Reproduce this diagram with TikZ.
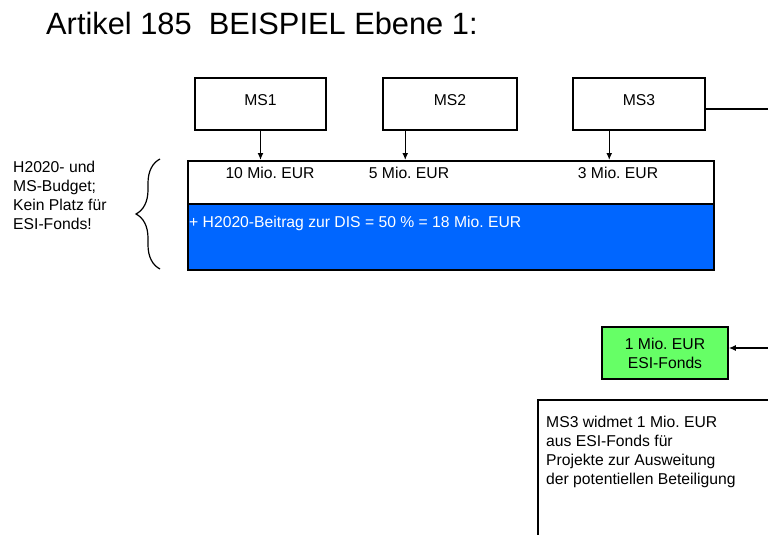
\documentclass[tikz,border=0pt]{standalone}
\usepackage{fontspec}
\setmainfont{Liberation Sans}
\frenchspacing
\usetikzlibrary{arrows.meta,decorations.pathreplacing}
\definecolor{disblue}{HTML}{0066FF}
\definecolor{esigreen}{HTML}{66FF66}
\begin{document}
\begin{tikzpicture}[x=1pt,y=-1pt,
    every node/.style={font=\fontsize{15.7}{19}\selectfont, inner sep=0pt},
    box/.style={draw, line width=1.5pt},
    msbox/.style={box, minimum height=52pt, text depth=8pt},
    arr/.style={-{Latex[length=7pt,width=6pt]}, line width=1.5pt}]
  \clip (0,0) rectangle (768,535);
  \node[anchor=west, font=\fontsize{30.8}{36}\selectfont] (title) at (46,23) {Artikel 185\ \ BEISPIEL Ebene 1:};
  \node[msbox, minimum width=131pt] (ms1) at (260.5,104) {MS1};
  \node[msbox, minimum width=134pt] (ms2) at (450,104) {MS2};
  \node[msbox, minimum width=132pt] (ms3) at (639,104) {MS3};
  \node[box, fill=white, minimum width=526pt, minimum height=43pt, anchor=north west] (budget) at (187,160) {};
  \node[box, fill=disblue, minimum width=526pt, minimum height=66pt, anchor=north west] (dis) at (187,203) {};
  \node (eur1) at (270,173) {10 Mio. EUR};
  \node (eur2) at (409,173) {5 Mio. EUR};
  \node (eur3) at (618,173) {3 Mio. EUR};
  \node[anchor=west, text=white] (beitrag) at (189,223) {+ H2020-Beitrag zur DIS = 50 \% = 18 Mio. EUR};
  \draw[arr] (ms1.south) -- (ms1.south |- budget.north);
  \draw[arr] ([xshift=23pt]ms2.south west) -- ([xshift=23pt]ms2.south west |- budget.north);
  \draw[arr] ([xshift=37pt]ms3.south west) -- ([xshift=37pt]ms3.south west |- budget.north);
  \node[anchor=north west, align=left] (note) at (13,161) {H2020- und\\MS-Budget;\\Kein Platz für\\ESI-Fonds!};
  \draw[line width=1.2pt, decorate, decoration={brace, amplitude=24pt}] (160,269) -- (160,159);
  \coordinate (out3) at (770,109);
  \draw[line width=1.5pt] (ms3.east |- out3) -- (out3);
  \node[box, fill=esigreen, minimum width=126pt, minimum height=52pt, align=center] (esi) at (665,353) {1 Mio. EUR\\ESI-Fonds};
  \coordinate (in3) at (770,348);
  \draw[arr] (in3) -- (esi.east |- in3);
  \node[box, minimum width=300pt, minimum height=200pt, anchor=north west] (widmung) at (537,399) {};
  \node[anchor=north west, align=left] (widtext) at (546,416) {MS3 widmet 1 Mio. EUR\\aus ESI-Fonds für\\Projekte zur Ausweitung\\der potentiellen Beteiligung};
\end{tikzpicture}
\end{document}
